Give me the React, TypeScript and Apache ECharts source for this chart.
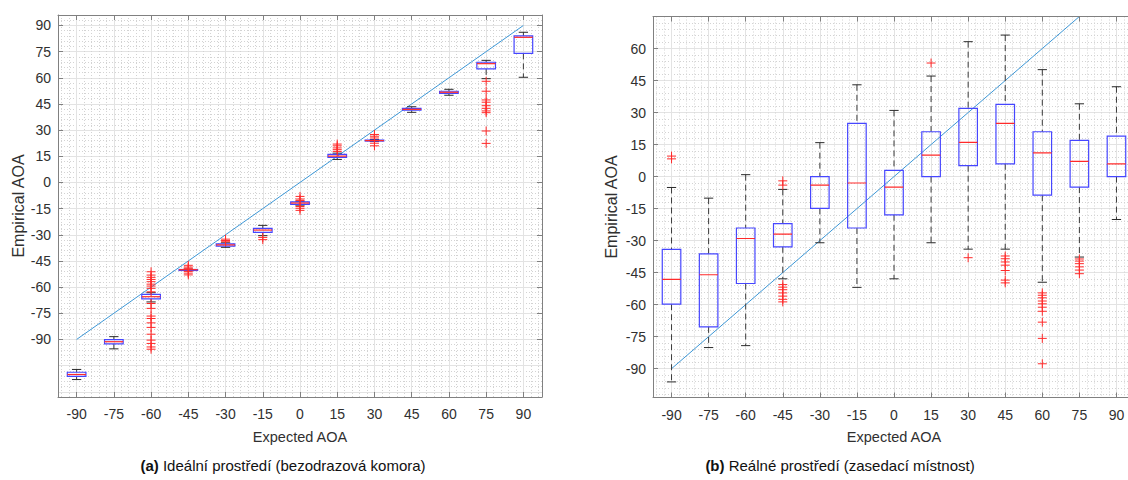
import React, { useEffect, useRef } from 'react';
import * as echarts from 'echarts';

const categories = ['-90', '-75', '-60', '-45', '-30', '-15', '0', '15', '30', '45', '60', '75', '90'];
const expected = [-90, -75, -60, -45, -30, -15, 0, 15, 30, 45, 60, 75, 90];
const idealYTicks = [-90, -75, -60, -45, -30, -15, 0, 15, 30, 45, 60, 75, 90];
const realYTicks = [-90, -75, -60, -45, -30, -15, 0, 15, 30, 45, 60];

// (a) ideal environment (anechoic chamber)
const idealMin = [-113, -95.4, -68.5, -50.3, -37.2, -30.5, -13, 13.2, 23.5, 40.2, 50, 59.5, 60.3];
const idealQ1 = [-111.2, -92.5, -66.7, -50.1, -36.5, -28.6, -12.6, 14.4, 23.8, 41.4, 51.1, 65.1, 74];
const idealMedian = [-110.1, -91.3, -65.5, -50, -35.8, -27.3, -11.8, 15.1, 24, 41.9, 51.7, 68.1, 83.2];
const idealQ3 = [-108.8, -90.1, -64.2, -49.9, -35.2, -26.3, -11.1, 16.1, 24.3, 42.5, 52.3, 68.9, 84];
const idealMax = [-107.2, -88.4, -63.2, -49.7, -34.6, -24.6, -10.8, 16.8, 24.6, 43.4, 53.4, 70, 86.1];
const idealOutliers: number[][] = [
  [],
  [],
  [-51.2, -53.1, -54.4, -55.6, -56.9, -58.3, -59.4, -60.7, -62.7, -69.4, -72.2, -76.6, -78, -80.5, -83.1, -87, -90.4, -92.3, -94.3, -95.6],
  [-47.5, -48.5, -49.2, -51, -52, -53],
  [-32.5, -33.3, -34],
  [-31.5, -32.8],
  [-8, -9.5, -10.3, -13.8, -14.8, -16],
  [17.8, 18.8, 19.8, 21, 22],
  [21, 22.5, 25.5, 26.5, 27.5],
  [],
  [],
  [58, 52.3, 47.3, 46, 44, 42.5, 41, 40, 29.5, 22.4],
  [],
];

// (b) real environment (meeting room)
const realMin = [-96.2, -80.1, -79.2, -47.9, -31, -51.9, -47.9, -31, -34, -34, -49.5, -37.7, -20.1];
const realQ1 = [-59.8, -70.4, -50.1, -32.9, -14.9, -24.1, -17.9, 0, 5.1, 6, -8.7, -4.9, 0];
const realMedian = [-48.2, -46, -29, -27, -4, -3, -4.9, 10.1, 16, 24.9, 11.1, 7.1, 6];
const realQ3 = [-34.1, -36.2, -24.1, -22, 0, 24.9, 2.9, 21, 32, 33.8, 21, 17, 19];
const realMax = [-5.1, -10.1, 0.9, -6, 15.9, 43, 31, 47.1, 63.2, 66.3, 50.1, 34.1, 42.1];
const realOutliers: number[][] = [
  [8.3, 9.6],
  [],
  [],
  [-2, -4, -50.6, -51.8, -53, -54.5, -56, -57.5, -58.7],
  [],
  [],
  [],
  [53.2],
  [-38],
  [-37.2, -38.5, -40, -41.5, -44, -48.5, -49.8],
  [-54.5, -55.6, -56.8, -58.3, -59.6, -61.2, -63.1, -68.2, -75.8, -87.7],
  [-38.6, -39.6, -40.8, -42.3, -43.8, -45.5],
  [],
];

const FONT = '"Liberation Sans", Arial, Helvetica, sans-serif';
const frameColor = '#808080';
const labelColor = '#303030';
const majorGrid = '#e3e3e3';
const minorGrid = '#d3d3d3';
const T = 'rgba(0,0,0,0)';

function panelAxes(
  g: number, yMin: number, yMax: number, yStep: number,
  minorCycle: string[], majorCycle: string[], yTicks: number[], yNameGap: number,
) {
  const tickStyle = { color: frameColor, width: 1 };
  const xAxes = [
    {
      gridIndex: g, type: 'category', data: categories, position: 'bottom', boundaryGap: true,
      axisLine: { show: true, onZero: false, lineStyle: { color: frameColor, width: 1 } },
      axisTick: { show: true, inside: true, alignWithLabel: true, length: 5, lineStyle: tickStyle },
      axisLabel: { color: labelColor, fontSize: 14, fontFamily: FONT, margin: 10 },
      splitLine: { show: false },
      name: 'Expected AOA', nameLocation: 'middle', nameGap: 32,
      nameTextStyle: { color: labelColor, fontSize: 14.5, fontFamily: FONT },
      z: 5,
    },
    {
      gridIndex: g, type: 'category', data: categories, position: 'top', boundaryGap: true,
      axisLine: { show: true, onZero: false, lineStyle: { color: frameColor, width: 1 } },
      axisTick: { show: true, inside: true, alignWithLabel: true, length: 5, lineStyle: tickStyle },
      axisLabel: { show: false },
      splitLine: { show: false },
      z: 5,
    },
    {
      gridIndex: g, type: 'value', min: 5, max: 135, interval: 1,
      axisLine: { show: false, onZero: false }, axisTick: { show: false }, axisLabel: { show: false },
      splitLine: { show: true, lineStyle: { color: [T, minorGrid], width: 1, type: [1, 2] } },
    },
    {
      gridIndex: g, type: 'value', min: 5, max: 135, interval: 5,
      axisLine: { show: false, onZero: false }, axisTick: { show: false }, axisLabel: { show: false },
      splitLine: { show: true, lineStyle: { color: [T, majorGrid], width: 1 } },
    },
  ];
  const yAxes = [
    {
      gridIndex: g, type: 'value', position: 'left', min: yMin, max: yMax,
      axisLine: { show: true, onZero: false, lineStyle: { color: frameColor, width: 1 } },
      axisTick: { show: true, inside: true, length: 5, lineStyle: tickStyle, customValues: yTicks },
      axisLabel: { color: labelColor, fontSize: 14, fontFamily: FONT, margin: 7, customValues: yTicks },
      splitLine: { show: false },
      name: 'Empirical AOA', nameLocation: 'middle', nameGap: yNameGap, nameRotate: 90,
      nameTextStyle: { color: labelColor, fontSize: 16, fontFamily: FONT },
      z: 5,
    },
    {
      gridIndex: g, type: 'value', position: 'right', min: yMin, max: yMax,
      axisLine: { show: true, onZero: false, lineStyle: { color: frameColor, width: 1 } },
      axisTick: { show: true, inside: true, length: 5, lineStyle: tickStyle, customValues: yTicks },
      axisLabel: { show: false, customValues: yTicks },
      splitLine: { show: false },
      z: 5,
    },
    {
      gridIndex: g, type: 'value', min: yMin, max: yMax, interval: yStep,
      axisLine: { show: false, onZero: false }, axisTick: { show: false }, axisLabel: { show: false },
      splitLine: { show: true, lineStyle: { color: minorCycle, width: 1, type: [1, 2] } },
    },
    {
      gridIndex: g, type: 'value', min: yMin, max: yMax, interval: yStep,
      axisLine: { show: false, onZero: false }, axisTick: { show: false }, axisLabel: { show: false },
      splitLine: { show: true, lineStyle: { color: majorCycle, width: 1 } },
    },
  ];
  return { xAxes, yAxes };
}

function boxRows(mn: number[], q1: number[], md: number[], q3: number[], mx: number[]) {
  return categories.map((_, i) => [i, mn[i], q1[i], md[i], q3[i], mx[i]]);
}

function outlierRows(out: number[][]) {
  const rows: number[][] = [];
  out.forEach((list, i) => list.forEach((v) => rows.push([i, v])));
  return rows;
}

function boxRender(params: any, api: any) {
  const i = api.value(0);
  const lo = api.coord([i, api.value(1)]);
  const q1 = api.coord([i, api.value(2)]);
  const md = api.coord([i, api.value(3)]);
  const q3 = api.coord([i, api.value(4)]);
  const hi = api.coord([i, api.value(5)]);
  const band = api.size([1, 0])[0];
  const bw = band * 0.5;
  const cw = band * 0.25;
  const cx = lo[0];
  const whisker = { stroke: '#3a3a3a', lineWidth: 1, lineDash: [6, 4] };
  const cap = { stroke: '#2a2a2a', lineWidth: 1 };
  return {
    type: 'group',
    children: [
      { type: 'line', shape: { x1: cx, y1: hi[1], x2: cx, y2: q3[1] }, style: whisker },
      { type: 'line', shape: { x1: cx, y1: q1[1], x2: cx, y2: lo[1] }, style: whisker },
      { type: 'line', shape: { x1: cx - cw / 2, y1: hi[1], x2: cx + cw / 2, y2: hi[1] }, style: cap },
      { type: 'line', shape: { x1: cx - cw / 2, y1: lo[1], x2: cx + cw / 2, y2: lo[1] }, style: cap },
      {
        type: 'rect',
        shape: { x: cx - bw / 2, y: q3[1], width: bw, height: Math.max(q1[1] - q3[1], 1) },
        style: { fill: 'none', stroke: '#4646ff', lineWidth: 1.2 },
      },
      { type: 'line', shape: { x1: cx - bw / 2, y1: md[1], x2: cx + bw / 2, y2: md[1] }, style: { stroke: '#ff2a2a', lineWidth: 1.2 } },
    ],
  };
}

function plusRender(params: any, api: any) {
  const p = api.coord([api.value(0), api.value(1)]);
  const h = 4.5;
  const st = { stroke: '#ff2a2a', lineWidth: 1 };
  return {
    type: 'group',
    children: [
      { type: 'line', shape: { x1: p[0] - h, y1: p[1], x2: p[0] + h, y2: p[1] }, style: st },
      { type: 'line', shape: { x1: p[0], y1: p[1] - h, x2: p[0], y2: p[1] + h }, style: st },
    ],
  };
}

function panelSeries(g: number, boxes: number[][], outs: number[][]) {
  const xi = g * 4;
  const yi = g * 4;
  return [
    {
      type: 'line', xAxisIndex: xi, yAxisIndex: yi, data: expected, symbol: 'none', clip: true,
      lineStyle: { color: '#3d97d6', width: 1 }, z: 3, silent: true,
    },
    {
      type: 'custom', xAxisIndex: xi, yAxisIndex: yi, data: boxes, renderItem: boxRender,
      encode: { x: 0, y: [1, 2, 3, 4, 5] }, z: 4, clip: true, silent: true,
    },
    {
      type: 'custom', xAxisIndex: xi, yAxisIndex: yi, data: outs, renderItem: plusRender,
      encode: { x: 0, y: 1 }, z: 5, clip: true, silent: true,
    },
  ];
}

export default function App() {
  const ref = useRef<HTMLDivElement>(null);
  useEffect(() => {
    if (!ref.current) return;
    const chart = echarts.init(ref.current, undefined, { renderer: 'svg' });
    // (a): y from -123 to 96, step 3 => minor every 3, major every 15 (index 1 mod 5)
    const a = panelAxes(0, -123, 96, 3, [minorGrid], [T, majorGrid, T, T, T], idealYTicks, 31);
    // (b): y from -103.5 to 75, step 1.5 => minor every 3 (odd indices), major every 15 (index 9 mod 10)
    const b = panelAxes(1, -103.5, 75, 1.5, [T, minorGrid], [T, T, T, T, T, T, T, T, T, majorGrid], realYTicks, 34);
    const captionStyle = (text: string, x: number) => ({
      type: 'text', x, y: 465,
      style: {
        text,
        textAlign: 'center', textVerticalAlign: 'middle', align: 'center', verticalAlign: 'middle',
        fontSize: 15, fontFamily: FONT, fill: '#111',
        rich: { b: { fontWeight: 'bold', fontSize: 15, fontFamily: FONT, fill: '#111' } },
      },
    });
    const option: any = {
      animation: false,
      backgroundColor: '#ffffff',
      textStyle: { fontFamily: FONT },
      grid: [
        { left: 58, top: 15, width: 484, height: 382, show: false },
        { left: 653, top: 16.5, width: 482, height: 381, show: false },
      ],
      xAxis: [...a.xAxes, ...b.xAxes],
      yAxis: [...a.yAxes, ...b.yAxes],
      series: [
        ...panelSeries(0, boxRows(idealMin, idealQ1, idealMedian, idealQ3, idealMax), outlierRows(idealOutliers)),
        ...panelSeries(1, boxRows(realMin, realQ1, realMedian, realQ3, realMax), outlierRows(realOutliers)),
      ],
      graphic: [
        captionStyle('{b|(a)} Ideální prostředí (bezodrazová komora)', 283),
        captionStyle('{b|(b)} Reálné prostředí (zasedací místnost)', 840),
      ],
    };
    chart.setOption(option);
    return () => chart.dispose();
  }, []);
  return (
    <div style={{ position: 'fixed', left: 0, top: 0, width: 1128, height: 480, overflow: 'hidden', background: '#fff' }}>
      <div ref={ref} style={{ position: 'absolute', left: 0, top: 0, width: 1145, height: 480 }} />
    </div>
  );
}
